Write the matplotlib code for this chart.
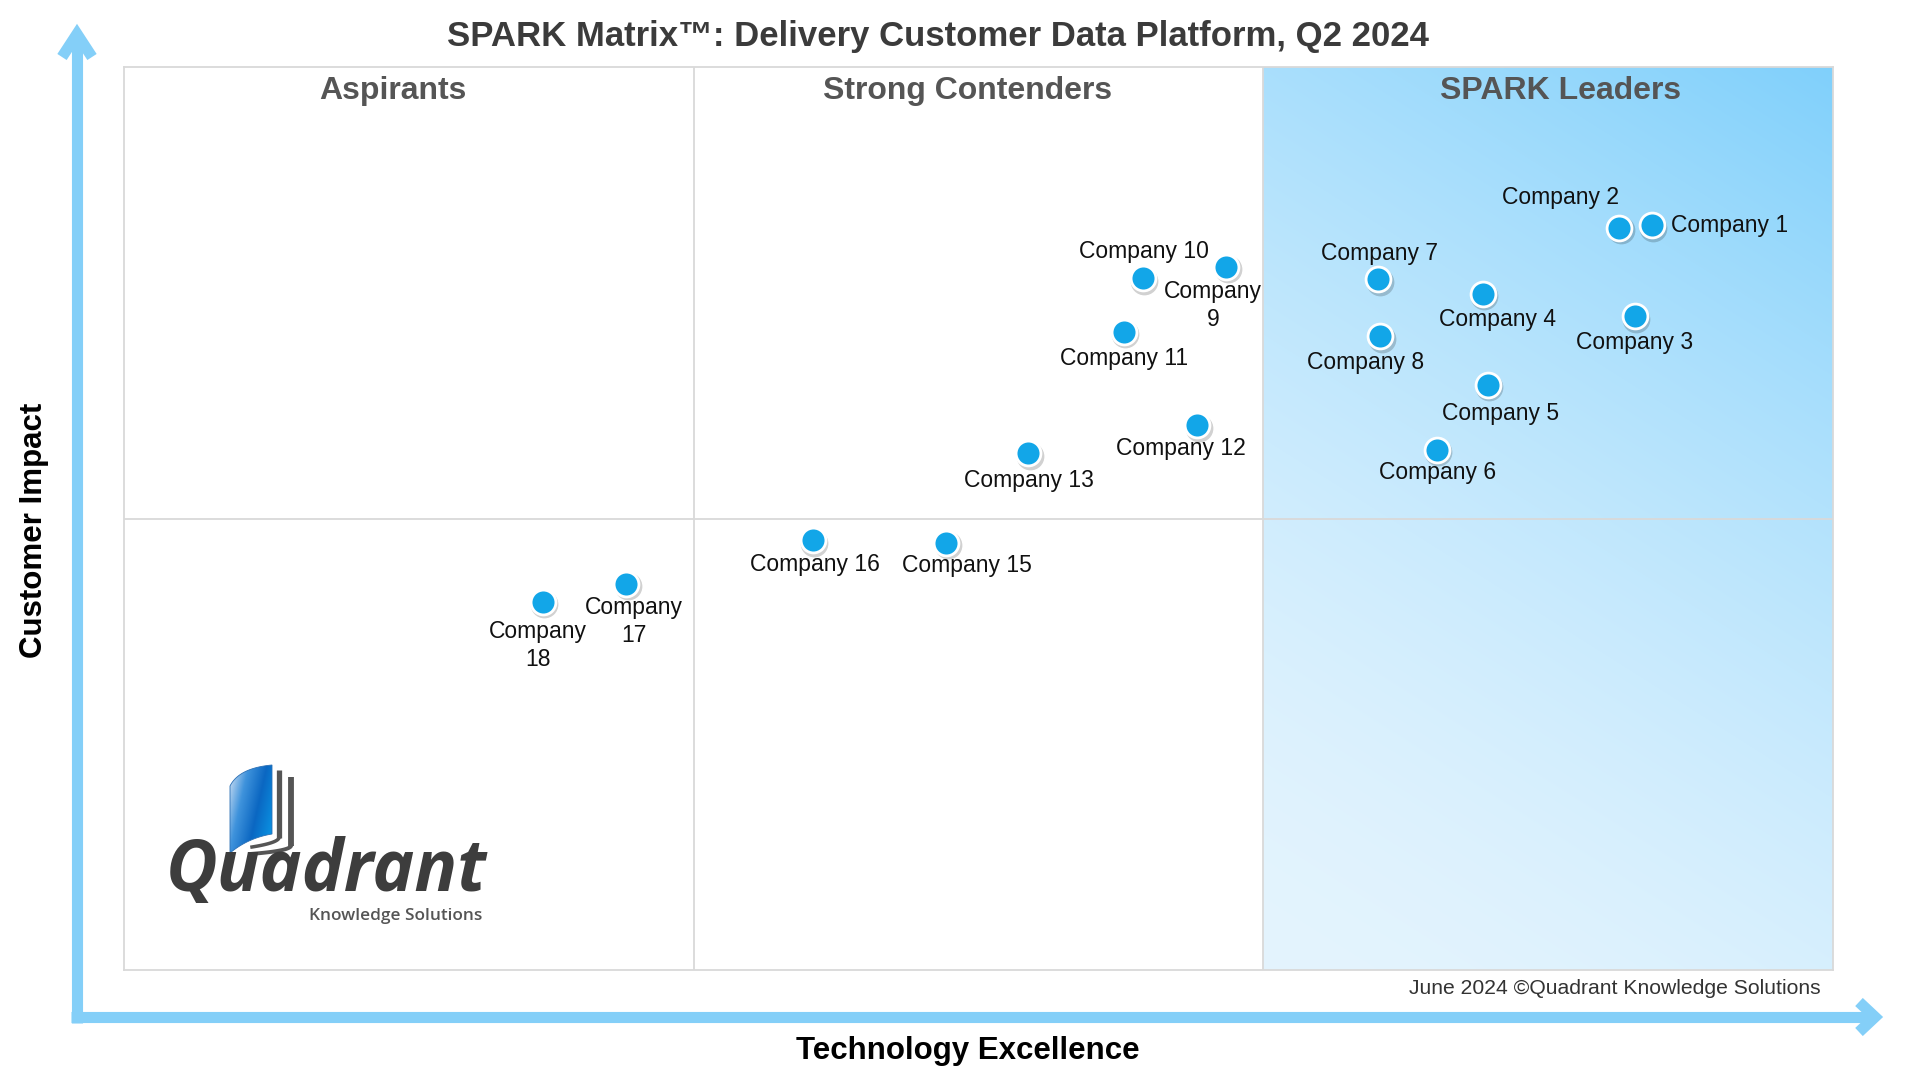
import numpy as np
import matplotlib
matplotlib.use('Agg')
import matplotlib.pyplot as plt
from matplotlib.patches import Polygon
from matplotlib.colors import LinearSegmentedColormap

plt.rcParams['font.family'] = ['Liberation Sans', 'DejaVu Sans']

# vendor scores (0-10 on both axes)
companies = ['Company 1', 'Company 2', 'Company 3', 'Company 4', 'Company 5',
             'Company 6', 'Company 7', 'Company 8', 'Company 9', 'Company 10',
             'Company 11', 'Company 12', 'Company 13', 'Company 15',
             'Company 16', 'Company 17', 'Company 18']
tech_excellence = [8.94, 8.75, 8.84, 7.95, 7.98, 7.68, 7.34, 7.35, 6.45, 5.96,
                   5.85, 6.28, 5.29, 4.81, 4.03, 2.94, 2.45]
customer_impact = [8.25, 8.22, 7.24, 7.49, 6.48, 5.76, 7.65, 7.02, 7.79, 7.66,
                   7.07, 6.03, 5.72, 4.73, 4.76, 4.28, 4.08]
wrapped = {'Company 9': 'Company\n9', 'Company 17': 'Company\n17',
           'Company 18': 'Company\n18'}

quadrant_names = ['Aspirants', 'Strong Contenders', 'SPARK Leaders']
title = 'SPARK Matrix\u2122: Delivery Customer Data Platform, Q2 2024'
footer = 'June 2024 \u00a9Quadrant Knowledge Solutions'

# label placement, pixel offsets from the dot (dx, dy down), ha
label_pos = {
    'Company 1': (19, 0, 'left'), 'Company 2': (-59, -30, 'center'),
    'Company 3': (0, 26, 'center'), 'Company 4': (15, 26, 'center'),
    'Company 5': (13, 29, 'center'), 'Company 6': (1, 23, 'center'),
    'Company 7': (1, -26, 'center'), 'Company 8': (-15, 26, 'center'),
    'Company 9': (-13, 39, 'center'), 'Company 10': (1, -27, 'center'),
    'Company 11': (0, 27, 'center'), 'Company 12': (-16, 23, 'center'),
    'Company 13': (1, 27, 'center'), 'Company 15': (21, 23, 'center'),
    'Company 16': (2, 24, 'center'), 'Company 17': (7, 38, 'center'),
    'Company 18': (-5, 44, 'center'),
}

W, H = 1920, 1080
fig = plt.figure(figsize=(19.2, 10.8), dpi=100)

# overlay in pixel coords for arrows and logo
ov = fig.add_axes([0, 0, 1, 1], zorder=0)
ov.set_xlim(0, W)
ov.set_ylim(H, 0)
ov.axis('off')

left, right, top, bottom = 124, 1833, 67, 970
ax = fig.add_axes([left / W, 1 - bottom / H, (right - left) / W, (bottom - top) / H], zorder=1)
ax.set_xticks([])
ax.set_yticks([])
ax.patch.set_alpha(0)
for s in ax.spines.values():
    s.set_color('#d9d9d9')
    s.set_linewidth(1.3)

# leaders gradient (right column)
c0 = np.array([228, 244, 254]) / 255.0
c1 = np.array([128, 208, 251]) / 255.0
xf, yf = np.meshgrid(np.linspace(0, 1, 300), np.linspace(0, 1, 300))
t = (0.285 * xf + 0.715 * yf) ** 1.6
img = c0[None, None, :] + t[:, :, None] * (c1 - c0)[None, None, :]
ax.imshow(img, extent=[20 / 3, 10, 0, 10], origin='lower', aspect='auto',
          zorder=0, interpolation='bilinear')
ax.set_xlim(0, 10)
ax.set_ylim(0, 10)

for xv in [10 / 3, 20 / 3]:
    ax.axvline(xv, color='#d9d9d9', lw=1.3, zorder=1)
ax.axhline(5, color='#d9d9d9', lw=1.3, zorder=1)

for name, xq in zip(quadrant_names, [1.576, 4.936, 8.403]):
    ax.text(xq, 9.73, name, ha='center', va='center', fontsize=23,
            fontweight='bold', color='#555555', zorder=2)

# dots with a soft shadow
shadow = matplotlib.transforms.offset_copy(ax.transData, fig=fig, x=1.5, y=-2.5, units='dots')
ax.scatter(tech_excellence, customer_impact, s=400, color=(0, 0, 0, 0.18),
           lw=0, transform=shadow, zorder=3)
ax.scatter(tech_excellence, customer_impact, s=320, color='#12a6e8',
           edgecolors='white', linewidths=2.0, zorder=4)

for name, xv, yv in zip(companies, tech_excellence, customer_impact):
    dx, dy, ha = label_pos[name]
    ax.annotate(wrapped.get(name, name), (xv, yv), xytext=(dx, -dy),
                textcoords='offset pixels', ha=ha, va='center',
                fontsize=16.5, color='#111111', zorder=5, linespacing=1.25)

fig.text(0.4886, 0.966, title, ha='center', va='center', fontsize=25,
         fontweight='bold', color='#3b3b3b')
fig.text(0.504, 0.0264, 'Technology Excellence', ha='center', va='center',
         fontsize=22.5, fontweight='bold', color='black')
fig.text(0.0179, 0.509, 'Customer Impact', ha='center', va='center',
         rotation=90, fontsize=22.5, fontweight='bold', color='black')
fig.text(0.9484, 0.0843, footer, ha='right', va='center', fontsize=15.2,
         color='#333333')

# axis arrows
acol = '#84cff8'
lw = 8.0
ov.plot([77, 77], [1023, 36], color=acol, lw=lw, solid_capstyle='butt')
ov.plot([62, 77, 92], [57, 34, 57], color=acol, lw=lw,
        solid_joinstyle='miter', solid_capstyle='butt')
ov.plot([71, 1872], [1017, 1017], color=acol, lw=lw, solid_capstyle='butt')
ov.plot([1859, 1875, 1859], [1002, 1017, 1032], color=acol, lw=lw,
        solid_joinstyle='miter', solid_capstyle='butt')

# logo: book page
def qbez(p0, p1, p2, n=30):
    tt = np.linspace(0, 1, n)[:, None]
    return (1 - tt) ** 2 * np.array(p0) + 2 * (1 - tt) * tt * np.array(p1) + tt ** 2 * np.array(p2)

top_edge = qbez((230, 786), (239, 768), (272, 765))
bot_edge = qbez((272, 834), (248, 838), (230, 853))
page = np.vstack([top_edge, bot_edge])
page_patch = Polygon(page, closed=True, facecolor='none', edgecolor='#2a6fb5', lw=0.6, zorder=2)
ov.add_patch(page_patch)
gx, gy = np.meshgrid(np.linspace(0, 1, 60), np.linspace(0, 1, 100))
tg = np.clip(0.75 * gx + 0.35 * gy, 0, 1)
blue_map = LinearSegmentedColormap.from_list('pg', ['#d7e4f4', '#3f93dc', '#0b67c2', '#0a8fe0'])
pim = ov.imshow(tg, extent=[230, 272, 853, 765], cmap=blue_map, aspect='auto',
                zorder=1, interpolation='bilinear')
pim.set_clip_path(page_patch)

ov.plot([279, 279], [770, 838], color='#555555', lw=3.8, solid_capstyle='butt')
ov.plot(*qbez((279, 838), (277, 843), (252, 847)).T, color='#555555', lw=2.5)
ov.plot([291, 291], [777, 846], color='#555555', lw=4.2, solid_capstyle='butt')
ov.plot(*qbez((291, 846), (289, 851), (250, 854)).T, color='#555555', lw=2.8)

ov.text(166, 891, 'Quadrant', ha='left', va='baseline', fontsize=51,
        fontweight='bold', fontstyle='italic', family=['Open Sans', 'DejaVu Sans'],
        color='#3d3d3d')
ov.text(482, 916, 'Knowledge Solutions', ha='right', va='center', fontsize=12.4,
        fontweight='semibold', family=['Open Sans', 'DejaVu Sans'], color='#555555')

fig.savefig('out.png', dpi=100)
